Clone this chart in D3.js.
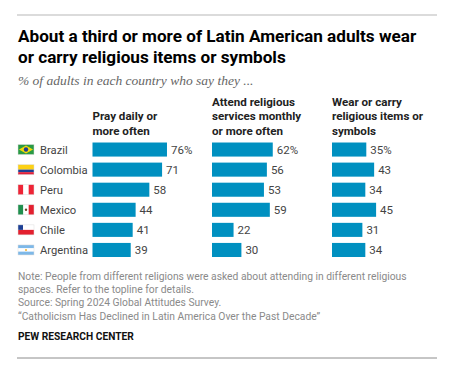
<!DOCTYPE html>
<html>
<head>
<meta charset="utf-8">
<script src="https://cdn.jsdelivr.net/npm/d3@7"></script>
<style>
  html, body { margin: 0; padding: 0; background: #fff; }
  svg { display: block; }
  text { font-family: "Roboto", "Liberation Sans", sans-serif; }
</style>
</head>
<body>
<div id="chart"></div>
<script>
const countries = ["Brazil", "Colombia", "Peru", "Mexico", "Chile", "Argentina"];
const pray = [76, 71, 58, 44, 41, 39];
const attend = [62, 56, 53, 59, 22, 30];
const wear = [35, 43, 34, 45, 31, 34];
const headers = [
    ["Pray daily or", "more often"],
    ["Attend religious", "services monthly", "or more often"],
    ["Wear or carry", "religious items or", "symbols"],
];
const titleLines = [
    "About a third or more of Latin American adults wear",
    "or carry religious items or symbols",
];
const subtitle = "% of adults in each country who say they ...";
const noteLines = [
    "Note: People from different religions were asked about attending in different religious",
    "spaces. Refer to the topline for details.",
    "Source: Spring 2024 Global Attitudes Survey.",
    "\u201cCatholicism Has Declined in Latin America Over the Past Decade\u201d",
];
const credit = "PEW RESEARCH CENTER";

const width = 476, height = 372;
const barColor = "#0090c0";
const panels = [
    { values: pray, x0: 92.5 },
    { values: attend, x0: 212 },
    { values: wear, x0: 332 },
];

const svg = d3.select("#chart").append("svg")
    .attr("width", width)
    .attr("height", height);

svg.append("line")
    .attr("x1", 17).attr("x2", 437).attr("y1", 15).attr("y2", 15)
    .attr("stroke", "#cfcfcf").attr("stroke-width", 1.5);
svg.append("line")
    .attr("x1", 17).attr("x2", 437).attr("y1", 358).attr("y2", 358)
    .attr("stroke", "#8c8c8c").attr("stroke-width", 1);

svg.selectAll("text.title").data(titleLines).join("text")
    .attr("class", "title")
    .attr("x", 18)
    .attr("y", (d, i) => 42 + i * 20.5)
    .attr("font-size", 17.15)
    .attr("font-weight", 700)
    .attr("fill", "#000")
    .text(d => d);

svg.append("text")
    .attr("x", 18).attr("y", 85)
    .attr("font-size", 13.5)
    .attr("font-style", "italic")
    .attr("fill", "#666")
    .style("font-family", "'Liberation Serif', serif")
    .text(subtitle);

const y = d3.scaleBand()
    .domain(countries)
    .range([139.5, 260])
    .paddingInner(0.3)
    .paddingOuter(0.15);

const xLen = d3.scaleLinear().domain([0, 100]).range([0, 98]);

panels.forEach((p, k) => {
    const g = svg.append("g").attr("transform", `translate(${p.x0},0)`);

    const lines = headers[k];
    g.selectAll("text.head").data(lines).join("text")
        .attr("class", "head")
        .attr("x", 0)
        .attr("y", (d, i) => 134.5 - (lines.length - 1 - i) * 14.4)
        .attr("font-size", 11.6)
        .attr("font-weight", 700)
        .attr("fill", "#222")
        .text(d => d);

    g.selectAll("rect").data(p.values).join("rect")
        .attr("x", 0)
        .attr("y", (d, i) => y(countries[i]))
        .attr("width", d => xLen(d))
        .attr("height", y.bandwidth())
        .attr("fill", barColor);

    g.selectAll("text.val").data(p.values).join("text")
        .attr("class", "val")
        .attr("x", d => xLen(d) + 4)
        .attr("y", (d, i) => y(countries[i]) + y.bandwidth() / 2 + 4)
        .attr("font-size", 11.5)
        .attr("fill", "#444")
        .text((d, i) => i === 0 ? d + "%" : d);
});

svg.selectAll("text.country").data(countries).join("text")
    .attr("class", "country")
    .attr("x", 40)
    .attr("y", d => y(d) + y.bandwidth() / 2 + 4)
    .attr("font-size", 11.2)
    .attr("fill", "#444")
    .text(d => d);

// little flags, 16x10 box
const flagW = 16, flagH = 10;
function stripes(g, cols, vertical) {
    cols.forEach((c, i) => {
        const a = g.append("rect").attr("fill", c);
        if (vertical) {
            a.attr("x", i * flagW / cols.length).attr("y", 0)
             .attr("width", flagW / cols.length).attr("height", flagH);
        } else {
            a.attr("x", 0).attr("y", i * flagH / cols.length)
             .attr("width", flagW).attr("height", flagH / cols.length);
        }
    });
}
const flags = {
    Brazil: g => {
        stripes(g, ["#2a9a45"]);
        g.append("path").attr("d", "M8,1L15,5L8,9L1,5Z").attr("fill", "#f5d90a");
        g.append("circle").attr("cx", 8).attr("cy", 5).attr("r", 2.2).attr("fill", "#1f3f8f");
    },
    Colombia: g => {
        g.append("rect").attr("width", flagW).attr("height", 5).attr("fill", "#fcd116");
        g.append("rect").attr("y", 5).attr("width", flagW).attr("height", 2.5).attr("fill", "#1d3f94");
        g.append("rect").attr("y", 7.5).attr("width", flagW).attr("height", 2.5).attr("fill", "#e0213a");
    },
    Peru: g => stripes(g, ["#ee2436", "#fff", "#ee2436"], true),
    Mexico: g => {
        stripes(g, ["#1f8f4e", "#fff", "#e3202f"], true);
        g.append("circle").attr("cx", 8).attr("cy", 5).attr("r", 1.2).attr("fill", "#6b4a2a");
    },
    Chile: g => {
        stripes(g, ["#fff", "#e3202f"]);
        g.append("rect").attr("width", 5).attr("height", 5).attr("fill", "#1d3f94");
    },
    Argentina: g => {
        stripes(g, ["#7db8e8", "#fff", "#7db8e8"]);
        g.append("circle").attr("cx", 8).attr("cy", 5).attr("r", 1).attr("fill", "#f0b030");
    },
};
countries.forEach(c => {
    const g = svg.append("g")
        .attr("transform", `translate(18,${y(c) + y.bandwidth() / 2 - flagH / 2})`);
    flags[c](g);
    g.append("rect").attr("width", flagW).attr("height", flagH)
        .attr("fill", "none").attr("stroke", "#ddd").attr("stroke-width", 0.5);
});

svg.selectAll("text.note").data(noteLines).join("text")
    .attr("class", "note")
    .attr("x", 18)
    .attr("y", (d, i) => 279.5 + i * 13.4)
    .attr("font-size", 10.3)
    .attr("fill", "#8a8a8a")
    .text(d => d);

svg.append("text")
    .attr("x", 18).attr("y", 339.5)
    .attr("font-size", 10.2)
    .attr("font-weight", 700)
    .attr("fill", "#111")
    .text(credit);
</script>
</body>
</html>
